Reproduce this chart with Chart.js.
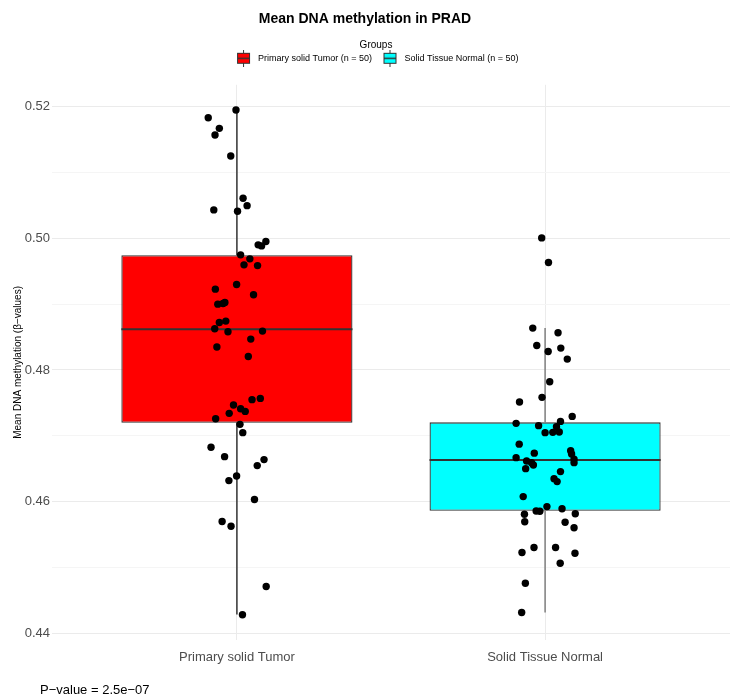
<!DOCTYPE html>
<html>
<head>
<meta charset="utf-8">
<script src="https://cdn.jsdelivr.net/npm/chart.js@4.4.1/dist/chart.umd.min.js"></script>
<style>
  html, body { margin: 0; padding: 0; background: #fff; }
</style>
</head>
<body>
<canvas id="boxChart" width="737" height="700"></canvas>
<script>
const groups = ['Primary solid Tumor', 'Solid Tissue Normal'];
const groupSizes = [50, 50];
const groupColors = ['#ff0000', '#00ffff'];

// box stats, [tumor, normal]
const q1 = [0.47198, 0.45858];
const medians = [0.48620, 0.46632];
const q3 = [0.49744, 0.47203];
const whiskerLow = [0.44284, 0.44314];
const whiskerHigh = [0.51950, 0.48636];

// jittered samples (value, horizontal jitter in category units)
const tumorValues = [0.51950, 0.51833, 0.51672, 0.51570, 0.51252, 0.50609, 0.50497, 0.50432, 0.50412, 0.49951,
  0.49901, 0.49885, 0.49749, 0.49688, 0.49597, 0.49586, 0.49228, 0.49298, 0.49142, 0.49000,
  0.49025, 0.48721, 0.48742, 0.48625, 0.48580, 0.48590, 0.48469, 0.48348, 0.48205, 0.47567,
  0.47548, 0.47467, 0.47411, 0.47370, 0.47340, 0.47259, 0.47173, 0.47047, 0.46824, 0.46682,
  0.46637, 0.46546, 0.46389, 0.46318, 0.46030, 0.45696, 0.45624, 0.44709, 0.44279, 0.49010];
const tumorJitter = [-0.003, -0.093, -0.057, -0.071, -0.020, 0.020, 0.033, -0.075, 0.002, 0.094,
  0.069, 0.080, 0.012, 0.042, 0.023, 0.067, -0.070, -0.001, 0.054, -0.062,
  -0.039, -0.057, -0.036, -0.072, -0.029, 0.083, 0.045, -0.065, 0.037, 0.076,
  0.049, -0.011, 0.012, 0.027, -0.025, -0.069, 0.010, 0.019, -0.084, -0.040,
  0.088, 0.066, -0.001, -0.026, 0.057, -0.048, -0.019, 0.095, 0.018, -0.045];
const normalValues = [0.50007, 0.49632, 0.48636, 0.48565, 0.48372, 0.48332, 0.48281, 0.48165, 0.47821, 0.47583,
  0.47513, 0.47294, 0.47218, 0.47188, 0.47153, 0.47138, 0.47047, 0.47051, 0.47057, 0.46872,
  0.46735, 0.46773, 0.46723, 0.46667, 0.46617, 0.46591, 0.46556, 0.46500, 0.46644, 0.46591,
  0.46455, 0.46348, 0.46303, 0.46075, 0.45923, 0.45855, 0.45852, 0.45890, 0.45814, 0.45806,
  0.45693, 0.45685, 0.45601, 0.45301, 0.45301, 0.45225, 0.45213, 0.45061, 0.44757, 0.44314];
const normalJitter = [-0.011, 0.011, -0.040, 0.042, -0.027, 0.051, 0.010, 0.072, 0.015, -0.010,
  -0.083, 0.088, 0.050, -0.094, -0.021, 0.037, 0.000, 0.025, 0.046, -0.084,
  -0.035, 0.083, 0.086, -0.094, -0.060, -0.044, -0.038, -0.063, 0.094, 0.094,
  0.050, 0.029, 0.039, -0.071, 0.006, -0.029, -0.017, 0.055, 0.098, -0.067,
  -0.066, 0.065, 0.094, -0.036, 0.034, -0.075, 0.097, 0.049, -0.064, -0.076];

const yTicks = [0.44, 0.45, 0.46, 0.47, 0.48, 0.49, 0.50, 0.51, 0.52];
const yLabelTicks = [0.44, 0.46, 0.48, 0.50, 0.52];
const pValueText = 'P\u2212value = 2.5e\u221207';

const boxWidth = 0.75;
const allValues = tumorValues.concat(normalValues);
const yMin = Math.min(...allValues);
const yMax = Math.max(...allValues);
const yPad = (yMax - yMin) * 0.05;

Chart.defaults.font.family = '"Liberation Sans", Arial, sans-serif';

function boxIcon(fill) {
    const c = document.createElement('canvas');
    c.width = 15;
    c.height = 17;
    const g = c.getContext('2d');
    g.strokeStyle = '#333333';
    g.lineWidth = 1;
    g.beginPath();
    g.moveTo(7.5, 0);
    g.lineTo(7.5, 17);
    g.stroke();
    g.fillStyle = fill;
    g.fillRect(1.5, 3.5, 12, 10);
    g.strokeRect(1.5, 3.5, 12, 10);
    g.lineWidth = 1.5;
    g.beginPath();
    g.moveTo(1.5, 8.5);
    g.lineTo(13.5, 8.5);
    g.stroke();
    return c;
}

function medianSegments() {
    const out = [];
    medians.forEach((m, i) => {
        out.push({ x: i + 1 - boxWidth / 2, y: m }, { x: i + 1 + boxWidth / 2, y: m }, { x: i + 1.5, y: null });
    });
    return out;
}

function whisker(i) {
    return [
        { x: i + 1, y: q3[i] }, { x: i + 1, y: whiskerHigh[i] }, { x: i + 1, y: null },
        { x: i + 1, y: q1[i] }, { x: i + 1, y: whiskerLow[i] }
    ];
}

const pointData = tumorValues.map((v, i) => ({ x: 1 + tumorJitter[i], y: v }))
    .concat(normalValues.map((v, i) => ({ x: 2 + normalJitter[i], y: v })));

const pValuePlugin = {
    id: 'pValue',
    afterDraw(chart) {
        const ctx = chart.ctx;
        ctx.save();
        ctx.font = '13px "Liberation Sans", Arial, sans-serif';
        ctx.fillStyle = '#000';
        ctx.textBaseline = 'middle';
        ctx.textAlign = 'left';
        ctx.fillText(pValueText, 40, 690);
        ctx.restore();
    }
};

// the legend sits a little right of the title, centred over the panel
const legendShift = {
    id: 'legendShift',
    afterLayout(chart) {
        chart.legend.left += 11;
        chart.legend.right += 11;
    }
};

new Chart(document.getElementById('boxChart'), {
    type: 'scatter',
    data: {
        datasets: [
            {
                type: 'scatter',
                data: pointData,
                backgroundColor: '#000000',
                borderWidth: 0,
                pointRadius: 3.7,
                xAxisID: 'x',
                order: 0
            },
            {
                type: 'line',
                data: medianSegments(),
                borderColor: '#333333',
                borderWidth: 2,
                pointRadius: 0,
                spanGaps: false,
                xAxisID: 'x',
                order: 1
            },
            {
                type: 'line',
                data: whisker(0),
                borderColor: '#333333',
                borderWidth: 1.5,
                pointRadius: 0,
                spanGaps: false,
                xAxisID: 'x',
                order: 2
            },
            {
                type: 'line',
                data: whisker(1),
                borderColor: '#7f7f7f',
                borderWidth: 1.5,
                pointRadius: 0,
                spanGaps: false,
                xAxisID: 'x',
                order: 2
            },
            {
                type: 'bar',
                data: groups.map((g, i) => ({ x: i + 1, y: [q1[i], q3[i]] })),
                backgroundColor: groupColors,
                borderColor: '#333333',
                borderWidth: 1.3,
                borderSkipped: false,
                categoryPercentage: 1,
                barPercentage: boxWidth,
                xAxisID: 'x',
                order: 3
            }
        ]
    },
    options: {
        responsive: false,
        animation: false,
        layout: { padding: { left: 0, right: 7, top: 0, bottom: 0 } },
        plugins: {
            tooltip: { enabled: false },
            title: {
                display: true,
                text: 'Mean DNA methylation in PRAD',
                color: '#000000',
                font: { size: 14, weight: 'bold' },
                padding: { top: 11, bottom: 7 }
            },
            legend: {
                display: true,
                position: 'top',
                title: {
                    display: true,
                    text: 'Groups',
                    color: '#000000',
                    font: { size: 10 },
                    padding: { top: 5, bottom: -6 }
                },
                labels: {
                    usePointStyle: true,
                    pointStyleWidth: 20,
                    color: '#333333',
                    font: { size: 9 },
                    padding: 8,
                    generateLabels: () => groups.map((g, i) => ({
                        text: `${g} (n = ${groupSizes[i]})`,
                        pointStyle: boxIcon(groupColors[i]),
                        fillStyle: groupColors[i],
                        strokeStyle: '#333333',
                        lineWidth: 0,
                        hidden: false,
                        datasetIndex: 0
                    }))
                }
            }
        },
        scales: {
            x: {
                type: 'linear',
                min: 0.4,
                max: 2.6,
                offset: false,
                afterBuildTicks: scale => { scale.ticks = groups.map((g, i) => ({ value: i + 1 })); },
                afterFit: scale => { scale.height = 60; },
                ticks: {
                    callback: v => groups[v - 1],
                    color: '#4d4d4d',
                    font: { size: 13 },
                    padding: 10,
                    maxRotation: 0
                },
                grid: { color: '#ebebeb', lineWidth: 1, drawTicks: false, offset: false },
                border: { display: false }
            },
            y: {
                min: yMin - yPad,
                max: yMax + yPad,
                afterBuildTicks: scale => { scale.ticks = yTicks.map(v => ({ value: v })); },
                afterFit: scale => { scale.width = 52; },
                ticks: {
                    callback: v => yLabelTicks.some(t => Math.abs(t - v) < 1e-9) ? v.toFixed(2) : '',
                    color: '#4d4d4d',
                    font: { size: 13 },
                    padding: 2
                },
                grid: {
                    color: c => yLabelTicks.some(t => Math.abs(t - c.tick.value) < 1e-9) ? '#ebebeb' : '#f5f5f5',
                    lineWidth: 1,
                    drawTicks: false
                },
                border: { display: false },
                title: {
                    display: true,
                    text: 'Mean DNA methylation (\u03b2\u2212values)',
                    color: '#000000',
                    font: { size: 10 },
                    padding: { top: 12, bottom: 0 }
                }
            },
            spacer: {
                type: 'linear',
                position: 'top',
                min: 0,
                max: 1,
                afterFit: scale => { scale.height = 12; },
                ticks: { display: false },
                grid: { display: false, drawTicks: false },
                border: { display: false }
            }
        }
    },
    plugins: [pValuePlugin, legendShift]
});
</script>
</body>
</html>
